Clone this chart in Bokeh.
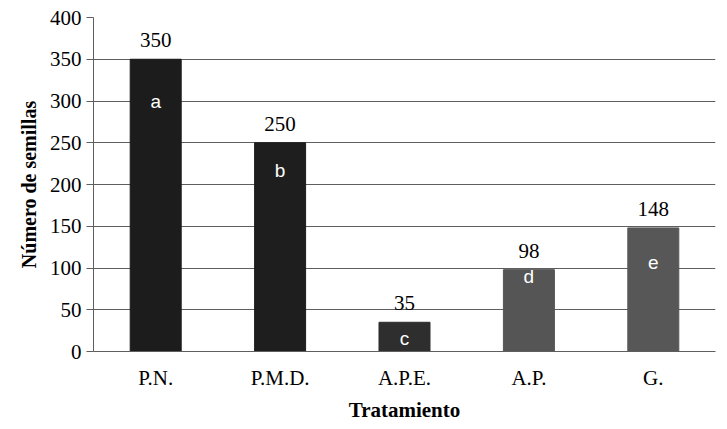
from bokeh.plotting import figure
from bokeh.models import ColumnDataSource, Range1d, FactorRange, FixedTicker
from bokeh.core.properties import value
from bokeh.embed import file_html
from bokeh.resources import INLINE

categories = ["P.N.", "P.M.D.", "A.P.E.", "A.P.", "G."]
seeds = [350, 250, 35, 98, 148]
letters = ["a", "b", "c", "d", "e"]
letter_y = [300, 217, 16, 90, 107]
bar_colors = ["#1c1c1c", "#1e1e1e", "#2e2e2e", "#555555", "#575757"]
y_ticks = [0, 50, 100, 150, 200, 250, 300, 350, 400]

SERIF = "Liberation Serif"

src = ColumnDataSource(dict(cat=categories, val=seeds, lab=[str(v) for v in seeds],
                            let=letters, ly=letter_y, col=bar_colors))

p = figure(x_range=FactorRange(*categories, range_padding=0), y_range=Range1d(0, 400),
           width=725, height=424, output_backend="svg", toolbar_location=None,
           min_border_left=93, min_border_right=10, min_border_top=17, min_border_bottom=10)
p.outline_line_color = None
p.background_fill_color = "white"

p.vbar(x="cat", top="val", width=0.41, color="col", source=src)
p.text(x="cat", y="val", text="lab", source=src, text_align="center", text_baseline="middle",
       y_offset=-19, text_font=value(SERIF), text_font_size="21px", text_color="black")
p.text(x="cat", y="ly", text="let", source=src, text_align="center", text_baseline="middle",
       text_font=value("Liberation Sans"), text_font_size="19px", text_color="white")

p.xgrid.grid_line_color = None
p.ygrid.grid_line_color = "#5e5e5e"
p.ygrid.grid_line_width = 1
p.ygrid.level = "underlay"

p.yaxis.ticker = FixedTicker(ticks=y_ticks)
p.yaxis.axis_line_color = "#5e5e5e"
p.yaxis.major_tick_line_color = "#5e5e5e"
p.yaxis.major_tick_out = 7
p.yaxis.major_tick_in = 0
p.yaxis.minor_tick_line_color = None
p.yaxis.major_label_text_font = SERIF
p.yaxis.major_label_text_font_size = "21px"
p.yaxis.major_label_text_color = "black"
p.yaxis.major_label_standoff = 5
p.yaxis.axis_label = "Número de semillas"
p.yaxis.axis_label_text_font = SERIF
p.yaxis.axis_label_text_font_size = "20px"
p.yaxis.axis_label_text_font_style = "bold"
p.yaxis.axis_label_text_color = "black"
p.yaxis.axis_label_standoff = 7

p.xaxis.axis_line_color = "#5e5e5e"
p.xaxis.major_tick_line_color = None
p.xaxis.minor_tick_line_color = None
p.xaxis.major_label_text_font = SERIF
p.xaxis.major_label_text_font_size = "21px"
p.xaxis.major_label_text_color = "black"
p.xaxis.major_label_standoff = 8
p.xaxis.axis_label = "Tratamiento"
p.xaxis.axis_label_text_font = SERIF
p.xaxis.axis_label_text_font_size = "21px"
p.xaxis.axis_label_text_font_style = "bold"
p.xaxis.axis_label_text_color = "black"
p.xaxis.axis_label_standoff = 5

open("out.html", "w").write(file_html(p, INLINE))
